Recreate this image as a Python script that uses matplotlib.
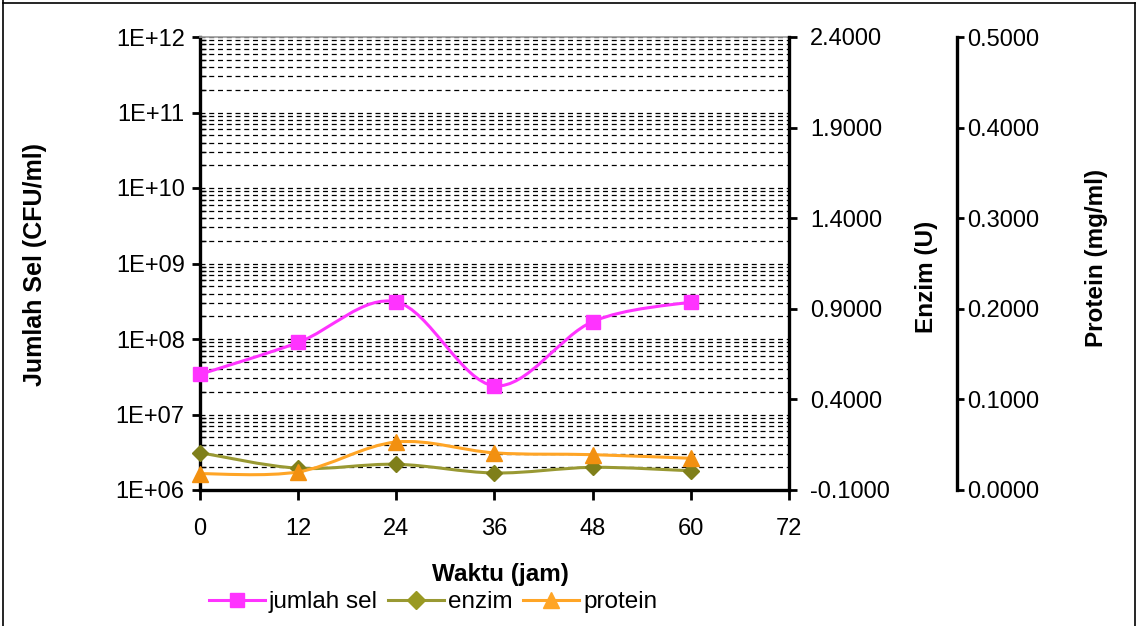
import numpy as np
import matplotlib
matplotlib.use('Agg')
import matplotlib.pyplot as plt
from matplotlib.path import Path
from matplotlib.patches import PathPatch
from matplotlib.lines import Line2D
from matplotlib.ticker import FuncFormatter, LogLocator, FixedLocator

plt.rcParams['font.family'] = ['Liberation Sans', 'DejaVu Sans']

# data
waktu = [0, 12, 24, 36, 48, 60]
jumlah_sel = [3.4e7, 9.0e7, 3.1e8, 2.4e7, 1.7e8, 3.1e8]
enzim = [0.106, 0.020, 0.042, -0.006, 0.025, 0.006]
protein = [0.018, 0.020, 0.053, 0.041, 0.039, 0.035]

x_ticks = [0, 12, 24, 36, 48, 60, 72]
enzim_ticks = [-0.1, 0.4, 0.9, 1.4, 1.9, 2.4]
protein_ticks = [0.0, 0.1, 0.2, 0.3, 0.4, 0.5]

c_sel = '#FF33FF'
c_enz_line = '#999933'
c_enz_mark = '#7F7F1A'
c_pro_line = '#FFA526'
c_pro_mark = '#F29010'


def smooth(ax, x, y, color, log=False, lw=2.2):
    # Excel-like smoothed line, drawn as cubic bezier path
    px = np.asarray(x, float)
    py = np.log10(y) if log else np.asarray(y, float)
    pts = np.column_stack([px, py])
    n = len(pts)
    verts = [pts[0]]
    codes = [Path.MOVETO]
    for i in range(n - 1):
        p0 = pts[max(i - 1, 0)]
        p1 = pts[i]
        p2 = pts[i + 1]
        p3 = pts[min(i + 2, n - 1)]
        verts += [p1 + (p2 - p0) / 6, p2 - (p3 - p1) / 6, p2]
        codes += [Path.CURVE4] * 3
    verts = np.array(verts)
    if log:
        verts[:, 1] = 10 ** verts[:, 1]
    ax.add_patch(PathPatch(Path(verts, codes), fill=False, edgecolor=color,
                           lw=lw, capstyle='round', joinstyle='round', zorder=3))


fig = plt.figure(figsize=(11.38, 6.26), dpi=100)
ax = fig.add_axes([200 / 1138, 1 - 490 / 626, 589 / 1138, 453 / 626])

fs = 17
lfs = 17.5

# left axis (log)
ax.set_yscale('log')
ax.set_xlim(0, 72)
ax.set_ylim(1e6, 1e12)
ax.set_xticks(x_ticks)
ax.yaxis.set_major_locator(LogLocator(base=10, numticks=10))
ax.yaxis.set_minor_locator(LogLocator(base=10, subs=np.arange(2, 10), numticks=10))
ax.yaxis.set_major_formatter(FuncFormatter(lambda v, p: '1E+%02d' % round(np.log10(v))))
ax.yaxis.set_minor_formatter(FuncFormatter(lambda v, p: ''))
ax.grid(True, which='both', axis='y', color='black', linestyle=(0, (4, 3)), linewidth=0.9)
ax.tick_params(axis='y', which='major', direction='out', length=6, width=2, labelsize=fs, pad=5)
ax.tick_params(axis='y', which='minor', direction='in', length=4, width=1)
ax.tick_params(axis='x', direction='out', length=7, width=2, labelsize=fs, pad=13)
for s in ['left', 'bottom']:
    ax.spines[s].set_linewidth(2.4)
ax.spines['top'].set_color('#999999')
ax.spines['top'].set_linewidth(1.2)
ax.spines['right'].set_visible(False)
ax.set_ylabel('Jumlah Sel (CFU/ml)', fontsize=18, fontweight='bold')
ax.yaxis.set_label_coords(-0.26, 0.497)
ax.set_xlabel('Waktu (jam)', fontsize=lfs, fontweight='bold')
ax.xaxis.set_label_coords(0.51, -0.162)

# enzim axis
ax2 = ax.twinx()
ax2.set_ylim(-0.1, 2.4)
ax2.yaxis.set_major_locator(FixedLocator(enzim_ticks))
ax2.yaxis.set_major_formatter(FuncFormatter(lambda v, p: '%.4f' % v))
ax2.tick_params(axis='y', direction='out', length=6, width=2, labelsize=fs, pad=9)
ax2.spines['right'].set_linewidth(2.4)
for s in ['left', 'top', 'bottom']:
    ax2.spines[s].set_visible(False)
ax2.set_ylabel('Enzim (U)', fontsize=lfs, fontweight='bold')
ax2.yaxis.set_label_coords(1.214, 0.47)

# protein axis
ax3 = ax.twinx()
ax3.spines['right'].set_position(('axes', 1 + 168 / 589))
ax3.set_ylim(0, 0.5)
ax3.yaxis.set_major_locator(FixedLocator(protein_ticks))
ax3.yaxis.set_major_formatter(FuncFormatter(lambda v, p: '%.4f' % v))
ax3.tick_params(axis='y', direction='out', length=5, width=2, labelsize=fs, pad=2)
ax3.spines['right'].set_linewidth(2.4)
for s in ['left', 'top', 'bottom']:
    ax3.spines[s].set_visible(False)
ax3.set_ylabel('Protein (mg/ml)', fontsize=lfs, fontweight='bold')
ax3.yaxis.set_label_coords(1.503, 0.512)

# series
smooth(ax, waktu, jumlah_sel, c_sel, log=True)
ax.plot(waktu, jumlah_sel, linestyle='none', marker='s', markersize=10,
        color=c_sel, zorder=4, clip_on=False)
smooth(ax2, waktu, enzim, c_enz_line)
ax2.plot(waktu, enzim, linestyle='none', marker='D', markersize=8,
         color=c_enz_mark, zorder=4, clip_on=False)
smooth(ax3, waktu, protein, c_pro_line)
ax3.plot(waktu, protein, linestyle='none', marker='^', markersize=12,
         color=c_pro_mark, zorder=4, clip_on=False)

handles = [
    Line2D([], [], color=c_sel, lw=2.2, marker='s', markersize=10),
    Line2D([], [], color=c_enz_line, lw=2.2, marker='D', markersize=9, markerfacecolor='#999922', markeredgecolor='#999922'),
    Line2D([], [], color=c_pro_line, lw=2.2, marker='^', markersize=12),
]
fig.legend(handles, ['jumlah sel', 'enzim', 'protein'], loc='center',
           bbox_to_anchor=(433 / 1138, 1 - 602 / 626), ncol=3, frameon=False,
           fontsize=lfs, handlelength=2.3, handletextpad=0.15, columnspacing=0.45,
           borderpad=0.1)

# outer frame
for xs, ys in [([3, 3], [0, 626]), ([3, 1135], [3, 3]), ([1135, 1135], [3, 626])]:
    fig.add_artist(Line2D(np.array(xs) / 1138, 1 - np.array(ys) / 626,
                          color='black', lw=1.2, transform=fig.transFigure))

fig.savefig('out.png', dpi=100)
